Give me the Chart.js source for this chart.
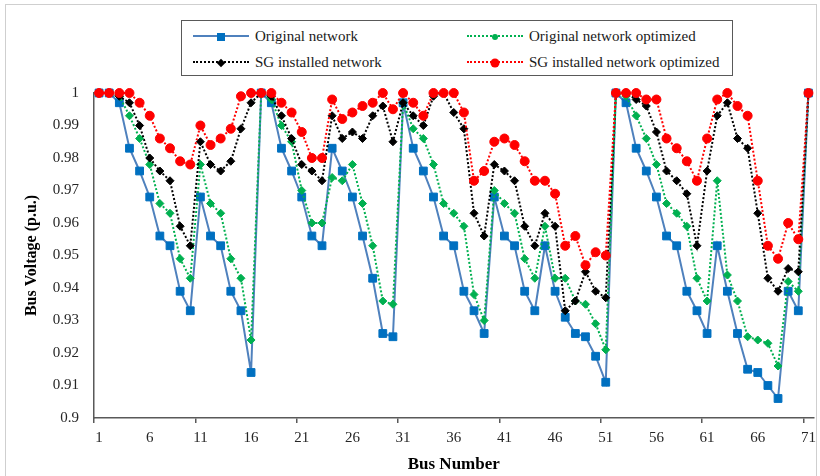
<!DOCTYPE html>
<html>
<head>
<meta charset="utf-8">
<script src="https://cdn.jsdelivr.net/npm/chart.js@4"></script>
<style>
  html, body { margin: 0; padding: 0; background: #fff; }
  #wrap { position: relative; width: 820px; height: 476px; overflow: hidden; }
  #frame { position: absolute; left: 5px; top: 4px; width: 810px; height: 490px;
           border: 1.5px solid #cfcfcf; }
  #myChart { position: absolute; left: 0; top: 0; }
  #legend { position: absolute; left: 181px; top: 20px; width: 550px; height: 54px;
            border: 1.5px solid #595959; background: #fff;
            font-family: "Liberation Serif", "Times New Roman", serif; font-size: 15px; color: #1a1a1a; }
  .item { position: absolute; height: 20px; line-height: 20px; white-space: nowrap; }
  .sample { position: absolute; top: 9px; width: 56px; height: 0; }
  .mark { position: absolute; top: 0; left: 28px; transform: translate(-50%, -50%); }
  .txt { position: absolute; left: 62px; top: 0; }
</style>
</head>
<body>
<div id="wrap">
  <div id="frame"></div>
  <canvas id="myChart" width="820" height="476"></canvas>
  <div id="legend"></div>
</div>
<script>
// bus numbers 1..71
const buses = [
  "1","2","3","4","5","6","7","8","9","10","11","12","13","14","15","16","17","18","19","20",
  "21","22","23","24","25","26","27","28","29","30","31","32","33","34","35","36","37","38","39","40",
  "41","42","43","44","45","46","47","48","49","50","51","52","53","54","55","56","57","58","59","60",
  "61","62","63","64","65","66","67","68","69","70","71"
];

const originalNetwork = [
  1.0, 1.0, 0.997, 0.983, 0.976, 0.968, 0.956, 0.953, 0.939, 0.933,
  0.968, 0.956, 0.953, 0.939, 0.933, 0.914, 1.0, 0.997, 0.983, 0.976,
  0.968, 0.956, 0.953, 0.983, 0.976, 0.968, 0.956, 0.943, 0.926, 0.925,
  0.997, 0.983, 0.976, 0.968, 0.956, 0.953, 0.939, 0.933, 0.926, 0.968,
  0.956, 0.953, 0.939, 0.933, 0.953, 0.939, 0.931, 0.926, 0.925, 0.919,
  0.911, 1.0, 0.997, 0.983, 0.976, 0.968, 0.956, 0.953, 0.939, 0.933,
  0.926, 0.953, 0.939, 0.926, 0.915, 0.914, 0.910, 0.906, 0.939, 0.933,
  1.0
];

const originalOptimized = [
  1.0, 1.0, 0.999, 0.993, 0.986, 0.978, 0.966, 0.963, 0.949, 0.943,
  0.978, 0.966, 0.963, 0.949, 0.943, 0.924, 1.0, 0.998, 0.990, 0.985,
  0.970, 0.960, 0.960, 0.974, 0.973, 0.978, 0.966, 0.953, 0.936, 0.935,
  0.997, 0.989, 0.986, 0.978, 0.966, 0.963, 0.959, 0.938, 0.930, 0.970,
  0.966, 0.963, 0.949, 0.943, 0.959, 0.943, 0.943, 0.936, 0.935, 0.929,
  0.921, 1.0, 0.999, 0.993, 0.986, 0.978, 0.966, 0.963, 0.959, 0.943,
  0.936, 0.973, 0.944, 0.936, 0.925, 0.924, 0.923, 0.916, 0.942, 0.939,
  1.0
];

const sgInstalled = [
  1.0, 1.0, 0.999, 0.997, 0.990, 0.980, 0.976, 0.973, 0.959, 0.953,
  0.985, 0.978, 0.976, 0.979, 0.989, 0.997, 1.0, 0.999, 0.993, 0.986,
  0.978, 0.976, 0.973, 0.993, 0.986, 0.988, 0.986, 0.993, 0.996, 0.985,
  0.997, 0.993, 0.990, 0.999, 1.0, 0.994, 0.989, 0.963, 0.956, 0.978,
  0.976, 0.973, 0.959, 0.953, 0.963, 0.959, 0.933, 0.936, 0.945, 0.939,
  0.937, 1.0, 1.0, 0.998, 0.996, 0.988, 0.976, 0.973, 0.969, 0.953,
  0.976, 0.993, 0.997, 0.986, 0.983, 0.963, 0.943, 0.939, 0.946, 0.945,
  1.0
];

const sgOptimized = [
  1.0, 1.0, 1.0, 1.0, 0.997, 0.993, 0.986, 0.983, 0.979, 0.978,
  0.990, 0.984, 0.986, 0.989, 0.999, 1.0, 1.0, 1.0, 0.997, 0.994,
  0.988, 0.980, 0.980, 0.998, 0.992, 0.994, 0.996, 0.997, 1.0, 0.995,
  1.0, 0.997, 0.993, 1.0, 1.0, 1.0, 0.994, 0.973, 0.976, 0.985,
  0.986, 0.984, 0.979, 0.973, 0.973, 0.969, 0.953, 0.956, 0.947, 0.951,
  0.950, 1.0, 1.0, 1.0, 0.998, 0.998, 0.986, 0.983, 0.979, 0.973,
  0.986, 0.998, 1.0, 0.996, 0.993, 0.973, 0.953, 0.949, 0.960, 0.955,
  1.0
];

const serif = '"Liberation Serif", "Times New Roman", serif';
const axisColor = "#595959";
const textColor = "#262626";

const datasets = [
  {
    label: "Original network",
    data: originalNetwork,
    borderColor: "#4F81BD",
    borderWidth: 2,
    pointStyle: "rect",
    pointRadius: 5.5,
    pointBackgroundColor: "#0070C0",
    pointBorderColor: "#0070C0",
    order: 3,
  },
  {
    label: "Original network optimized",
    data: originalOptimized,
    borderColor: "#00B050",
    borderWidth: 2,
    borderDash: [2, 2],
    pointStyle: "rectRot",
    pointRadius: 4,
    pointBackgroundColor: "#00B050",
    pointBorderColor: "#00B050",
    order: 2,
  },
  {
    label: "SG installed network",
    data: sgInstalled,
    borderColor: "#000000",
    borderWidth: 2,
    borderDash: [2, 2],
    pointStyle: "rectRot",
    pointRadius: 4,
    pointBackgroundColor: "#000000",
    pointBorderColor: "#000000",
    order: 1,
  },
  {
    label: "SG installed network optimized",
    data: sgOptimized,
    borderColor: "#FF0000",
    borderWidth: 2,
    borderDash: [2, 2],
    pointStyle: "circle",
    pointRadius: 4.5,
    pointBackgroundColor: "#FF0000",
    pointBorderColor: "#FF0000",
    order: 0,
  },
];

datasets.forEach((d) => {
  d.fill = false;
  d.tension = 0;
  d.clip = false;
  d.pointBorderWidth = 1;
});

const config = {
  type: "line",
  data: {
    labels: buses,
    datasets: datasets,
  },
  options: {
    responsive: false,
    animation: false,
    layout: {
      padding: { top: 93, right: 5, left: 22, bottom: 0 },
    },
    plugins: {
      legend: { display: false },
      tooltip: { enabled: false },
    },
    scales: {
      x: {
        type: "category",
        offset: true,
        grid: {
          offset: true,
          drawOnChartArea: false,
          drawTicks: true,
          tickLength: 5,
          color: (ctx) => ((ctx.index ?? 1) % 10 === 0 ? axisColor : "rgba(0,0,0,0)"),
          lineWidth: 1.5,
        },
        border: { display: true, color: axisColor, width: 1.5 },
        ticks: {
          autoSkip: false,
          maxRotation: 0,
          padding: 6,
          color: textColor,
          font: { family: serif, size: 15 },
          callback: function (val, index) {
            return index % 5 === 0 ? this.getLabelForValue(val) : "";
          },
        },
        title: {
          display: true,
          text: "Bus Number",
          color: "#000",
          font: { family: serif, size: 17, weight: "bold" },
          padding: { top: 0, bottom: 1 },
        },
        afterFit: (scale) => {
          scale.height = 58;
          scale.paddingLeft = 0;
          scale.paddingRight = 0;
        },
      },
      y: {
        min: 0.9,
        max: 1,
        grid: { display: false, drawTicks: false },
        border: { display: true, color: axisColor, width: 1.5 },
        ticks: {
          stepSize: 0.01,
          padding: 15,
          color: textColor,
          font: { family: serif, size: 15 },
          callback: (v) => String(parseFloat(v.toFixed(2))),
        },
        title: {
          display: true,
          text: "Bus Voltage (p.u.)",
          color: "#000",
          font: { family: serif, size: 16, weight: "bold" },
          padding: 0,
        },
        afterFit: (scale) => {
          scale.width = 72;
          scale.paddingTop = 0;
          scale.paddingBottom = 0;
        },
      },
    },
  },
};

new Chart(document.getElementById("myChart"), config);

// legend box (2 x 2, like the original)
const legendPos = [
  { left: 11, top: 5 },
  { left: 285, top: 5 },
  { left: 11, top: 31 },
  { left: 285, top: 31 },
];
const legendMarks = [
  "width:8px;height:8px;background:#0070C0;",
  "width:6px;height:6px;background:#00B050;border-radius:50%;",
  "width:6px;height:6px;background:#000;transform:translate(-50%,-50%) rotate(45deg);",
  "width:9px;height:9px;background:#FF0000;border-radius:50%;",
];

let html = "";
datasets.forEach((d, i) => {
  const line = d.borderDash ? "2px dotted " + d.borderColor : "2px solid " + d.borderColor;
  html += `
    <div class="item" style="left:${legendPos[i].left}px;top:${legendPos[i].top}px;">
      <span class="sample" style="border-top:${line};">
        <span class="mark" style="${legendMarks[i]}"></span>
      </span>
      <span class="txt">${d.label}</span>
    </div>`;
});
document.getElementById("legend").innerHTML = html;
</script>
</body>
</html>
